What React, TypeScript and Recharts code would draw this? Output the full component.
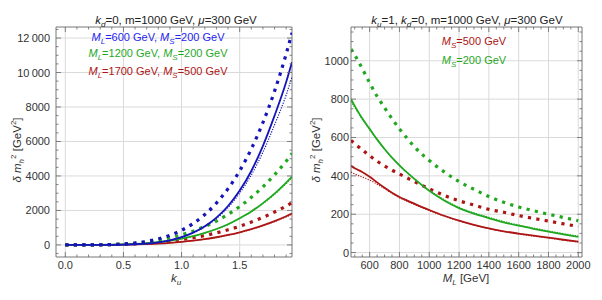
import React from 'react';
import { LineChart, Line, XAxis, YAxis, CartesianGrid, ReferenceArea } from 'recharts';

const FONT = '"Liberation Sans", Arial, sans-serif';
const TICK_COLOR = '#666';
const LABEL_COLOR = '#333';
const BLUE = '#1414b8';
const BLUE_TXT = '#2626f0';
const GREEN = '#1fa81f';
const RED = '#ad1515';

// ---------- Left panel data (k_u scan) ----------
const kValues = [0, 0.1, 0.2, 0.3, 0.4, 0.5, 0.6, 0.7, 0.8, 0.9, 1.0, 1.1, 1.2, 1.3, 1.4, 1.5, 1.6, 1.7, 1.8, 1.9, 1.95];
const blueSolid = [0, 0, 0.2, 1.4, 5.5, 16, 39, 81, 154, 271, 450, 712, 1080, 1585, 2260, 3150, 4290, 5750, 7500, 9450, 10600];
const blueThin = [0, 0, 0.2, 1.4, 5.4, 15.5, 38, 79, 150, 264, 438, 690, 1045, 1530, 2170, 3010, 4060, 5380, 6970, 8700, 9750];
const blueThick = [0, 0.1, 1.4, 7, 22, 53, 110, 204, 348, 558, 850, 1245, 1763, 2428, 3265, 4300, 5570, 7100, 8920, 11080, 12300];
const greenSolid = [0, 0.1, 1.1, 4.6, 13, 30, 57, 99, 160, 245, 360, 509, 696, 925, 1202, 1550, 1945, 2425, 2980, 3620, 3960];
const greenThin = [0, 0.1, 1.1, 4.6, 13, 30, 57, 99, 160, 245, 358, 505, 690, 915, 1188, 1530, 1920, 2390, 2930, 3560, 3900];
const greenThick = [0, 0.3, 2.9, 11, 28, 59, 108, 181, 281, 414, 585, 800, 1066, 1388, 1772, 2230, 2760, 3370, 4070, 4860, 5300];
const redSolid = [0, 0.1, 0.6, 2.6, 7.2, 15.7, 29, 51, 81, 123, 178, 248, 337, 446, 578, 735, 919, 1134, 1383, 1666, 1820];
const redThin = [0, 0.1, 0.6, 2.6, 7.1, 15.5, 28.6, 50, 80, 121, 175, 244, 331, 438, 567, 721, 900, 1110, 1353, 1630, 1785];
const redThick = [0, 0.25, 2.1, 7.6, 18, 36, 63, 103, 154, 223, 309, 416, 544, 697, 877, 1085, 1325, 1598, 1907, 2254, 2450];

const leftXMajor = [0, 0.5, 1, 1.5];
const leftXTicks = [0, 0.1, 0.2, 0.3, 0.4, 0.5, 0.6, 0.7, 0.8, 0.9, 1, 1.1, 1.2, 1.3, 1.4, 1.5, 1.6, 1.7, 1.8, 1.9];
const leftYMajor = [0, 2000, 4000, 6000, 8000, 10000, 12000];
const leftYTicks = [-500, 0, 500, 1000, 1500, 2000, 2500, 3000, 3500, 4000, 4500, 5000, 5500, 6000, 6500, 7000, 7500, 8000, 8500, 9000, 9500, 10000, 10500, 11000, 11500, 12000, 12500];

// ---------- Right panel data (M_L scan) ----------
const mValues = [475, 500, 550, 600, 650, 700, 750, 800, 850, 900, 1000, 1100, 1200, 1300, 1400, 1500, 1600, 1700, 1800, 1900, 2000];
const greenSolidR = [800, 765, 700, 645, 590, 540, 495, 455, 418, 384, 322, 272, 232, 203, 180, 158, 140, 124, 109, 95, 82];
const greenThinR = [788, 757, 696, 643, 589, 540, 495, 455, 419, 386, 325, 276, 236, 207, 184, 162, 144, 128, 113, 99, 86];
const greenThickR = [1060, 1030, 960, 885, 815, 755, 698, 645, 597, 552, 480, 421, 370, 330, 292, 262, 238, 218, 200, 183, 166];
const redSolidR = [452, 440, 420, 395, 366, 338, 312, 290, 272, 255, 222, 192, 167, 145, 126, 111, 99, 88, 78, 67, 57];
const redThinR = [420, 410, 394, 378, 357, 334, 309, 286, 268, 251, 219, 190, 165, 144, 125, 110, 97, 86, 76, 65, 55];
const redThickR = [585, 568, 536, 505, 477, 452, 430, 410, 390, 370, 333, 298, 270, 248, 225, 210, 193, 178, 164, 150, 136];

const rightXMajor = [600, 800, 1000, 1200, 1400, 1600, 1800, 2000];
const rightXTicks = [500, 550, 600, 650, 700, 750, 800, 850, 900, 950, 1000, 1050, 1100, 1150, 1200, 1250, 1300, 1350, 1400, 1450, 1500, 1550, 1600, 1650, 1700, 1750, 1800, 1850, 1900, 1950, 2000];
const rightYMajor = [0, 200, 400, 600, 800, 1000];
const rightYTicks = [0, 50, 100, 150, 200, 250, 300, 350, 400, 450, 500, 550, 600, 650, 700, 750, 800, 850, 900, 950, 1000, 1050, 1100, 1150];

const leftData = kValues.map((k, i) => ({
  k, bs: blueSolid[i], bt: blueThin[i], bk: blueThick[i],
  gs: greenSolid[i], gt: greenThin[i], gk: greenThick[i],
  rs: redSolid[i], rt: redThin[i], rk: redThick[i],
}));
const rightData = mValues.map((m, i) => ({
  m, gs: greenSolidR[i], gt: greenThinR[i], gk: greenThickR[i],
  rs: redSolidR[i], rt: redThinR[i], rk: redThickR[i],
}));

const fmtLeftY = (v: number) => (v >= 10000 ? `${Math.floor(v / 1000)}\u2009000` : `${v}`);
const fmtLeftX = (v: number) => v.toFixed(1);
const fmtInt = (v: number) => `${v}`;

function makeYTick(majors: number[], plotW: number, gap: number, fmt: (v: number) => string) {
  return (props: any) => {
    const { x, y, payload } = props;
    const v = payload.value;
    const major = majors.includes(v);
    const len = major ? 5 : 2.5;
    return (
      <g>
        <line x1={x} x2={x + len} y1={y} y2={y} stroke={TICK_COLOR} strokeWidth={0.8} />
        <line x1={x + plotW} x2={x + plotW - len} y1={y} y2={y} stroke={TICK_COLOR} strokeWidth={0.8} />
        {major && (
          <text x={x - gap} y={y} dy={4} textAnchor="end" fontSize={11} fill={LABEL_COLOR} fontFamily={FONT}>
            {fmt(v)}
          </text>
        )}
      </g>
    );
  };
}

function makeXTick(majors: number[], plotH: number, fmt: (v: number) => string) {
  return (props: any) => {
    const { x, y, payload } = props;
    const v = payload.value;
    const major = majors.includes(v);
    const len = major ? 5 : 2.5;
    return (
      <g>
        <line x1={x} x2={x} y1={y} y2={y - len} stroke={TICK_COLOR} strokeWidth={0.8} />
        <line x1={x} x2={x} y1={y - plotH} y2={y - plotH + len} stroke={TICK_COLOR} strokeWidth={0.8} />
        {major && (
          <text x={x} y={y + 12} textAnchor="middle" fontSize={11} fill={LABEL_COLOR} fontFamily={FONT}>
            {fmt(v)}
          </text>
        )}
      </g>
    );
  };
}

const SOLID_W = 1.8;
const THIN_W = 1.2;
const THIN_DASH = '1.2 1.4';
const THICK_W = 3.2;
const THICK_DASH = '3.2 5.3';

const LEFT_DOMAIN_X: [number, number] = [-0.08, 1.95];
const LEFT_DOMAIN_Y: [number, number] = [-700, 12640];
const RIGHT_DOMAIN_X: [number, number] = [475, 2025];
const RIGHT_DOMAIN_Y: [number, number] = [-23, 1176];

function LeftChart() {
  return (
    <LineChart width={300} height={300} data={leftData} margin={{ top: 27, right: 8, bottom: 13, left: 0 }}>
      <CartesianGrid stroke="#dadada" verticalValues={leftXMajor} horizontalValues={leftYMajor} />
      <XAxis dataKey="k" type="number" domain={LEFT_DOMAIN_X} allowDataOverflow ticks={leftXTicks} interval={0}
        tickLine={false} axisLine={false} tickSize={0} tickMargin={0} height={30}
        tick={makeXTick(leftXMajor, 230, fmtLeftX)} />
      <YAxis type="number" domain={LEFT_DOMAIN_Y} allowDataOverflow ticks={leftYTicks} interval={0}
        tickLine={false} axisLine={false} tickSize={0} tickMargin={0} width={56}
        tick={makeYTick(leftYMajor, 236, 6, fmtLeftY)} />
      <ReferenceArea x1={LEFT_DOMAIN_X[0]} x2={LEFT_DOMAIN_X[1]} y1={LEFT_DOMAIN_Y[0]} y2={LEFT_DOMAIN_Y[1]}
        fill="none" fillOpacity={0} stroke="#777" strokeWidth={1} />
      <Line type="monotone" dataKey="rk" stroke={RED} strokeWidth={THICK_W} strokeDasharray={THICK_DASH} dot={false} activeDot={false} isAnimationActive={false} />
      <Line type="monotone" dataKey="rt" stroke={RED} strokeWidth={THIN_W} strokeDasharray={THIN_DASH} dot={false} activeDot={false} isAnimationActive={false} />
      <Line type="monotone" dataKey="rs" stroke={RED} strokeWidth={SOLID_W} dot={false} activeDot={false} isAnimationActive={false} />
      <Line type="monotone" dataKey="gk" stroke={GREEN} strokeWidth={THICK_W} strokeDasharray={THICK_DASH} dot={false} activeDot={false} isAnimationActive={false} />
      <Line type="monotone" dataKey="gt" stroke={GREEN} strokeWidth={THIN_W} strokeDasharray={THIN_DASH} dot={false} activeDot={false} isAnimationActive={false} />
      <Line type="monotone" dataKey="gs" stroke={GREEN} strokeWidth={SOLID_W} dot={false} activeDot={false} isAnimationActive={false} />
      <Line type="monotone" dataKey="bk" stroke={BLUE} strokeWidth={THICK_W} strokeDasharray={THICK_DASH} dot={false} activeDot={false} isAnimationActive={false} />
      <Line type="monotone" dataKey="bt" stroke={BLUE} strokeWidth={THIN_W} strokeDasharray={THIN_DASH} dot={false} activeDot={false} isAnimationActive={false} />
      <Line type="monotone" dataKey="bs" stroke={BLUE} strokeWidth={SOLID_W} dot={false} activeDot={false} isAnimationActive={false} />
    </LineChart>
  );
}

function RightChart() {
  return (
    <LineChart width={302} height={300} data={rightData} margin={{ top: 27, right: 20, bottom: 13, left: 0 }}>
      <CartesianGrid stroke="#dadada" verticalValues={rightXMajor} horizontalValues={rightYMajor} />
      <XAxis dataKey="m" type="number" domain={RIGHT_DOMAIN_X} allowDataOverflow ticks={rightXTicks} interval={0}
        tickLine={false} axisLine={false} tickSize={0} tickMargin={0} height={30}
        tick={makeXTick(rightXMajor, 230, fmtInt)} />
      <YAxis type="number" domain={RIGHT_DOMAIN_Y} allowDataOverflow ticks={rightYTicks} interval={0}
        tickLine={false} axisLine={false} tickSize={0} tickMargin={0} width={51}
        tick={makeYTick(rightYMajor, 231, 2, fmtInt)} />
      <ReferenceArea x1={RIGHT_DOMAIN_X[0]} x2={RIGHT_DOMAIN_X[1]} y1={RIGHT_DOMAIN_Y[0]} y2={RIGHT_DOMAIN_Y[1]}
        fill="none" fillOpacity={0} stroke="#777" strokeWidth={1} />
      <Line type="monotone" dataKey="rk" stroke={RED} strokeWidth={THICK_W} strokeDasharray={THICK_DASH} dot={false} activeDot={false} isAnimationActive={false} />
      <Line type="monotone" dataKey="rt" stroke={RED} strokeWidth={THIN_W} strokeDasharray={THIN_DASH} dot={false} activeDot={false} isAnimationActive={false} />
      <Line type="monotone" dataKey="rs" stroke={RED} strokeWidth={SOLID_W} dot={false} activeDot={false} isAnimationActive={false} />
      <Line type="monotone" dataKey="gk" stroke={GREEN} strokeWidth={THICK_W} strokeDasharray={THICK_DASH} dot={false} activeDot={false} isAnimationActive={false} />
      <Line type="monotone" dataKey="gt" stroke={GREEN} strokeWidth={THIN_W} strokeDasharray={THIN_DASH} dot={false} activeDot={false} isAnimationActive={false} />
      <Line type="monotone" dataKey="gs" stroke={GREEN} strokeWidth={SOLID_W} dot={false} activeDot={false} isAnimationActive={false} />
    </LineChart>
  );
}

function Overlay() {
  const txt = { fontFamily: FONT } as const;
  return (
    <svg width={602} height={300} style={{ position: 'absolute', left: 0, top: 0, pointerEvents: 'none' }}>
      {/* titles */}
      <text x={176} y={24} textAnchor="middle" fontSize={11.5} fill="#222" {...txt}>
        <tspan fontStyle="italic">k</tspan><tspan fontSize={8} dy={3} fontStyle="italic">d</tspan>
        <tspan dy={-3}>=0, m=1000 GeV, </tspan><tspan fontStyle="italic">μ</tspan><tspan>=300 GeV</tspan>
      </text>
      <text x={467} y={24} textAnchor="middle" fontSize={11.5} fill="#222" {...txt}>
        <tspan fontStyle="italic">k</tspan><tspan fontSize={8} dy={3} fontStyle="italic">u</tspan>
        <tspan dy={-3}>=1, </tspan>
        <tspan fontStyle="italic">k</tspan><tspan fontSize={8} dy={3} fontStyle="italic">d</tspan>
        <tspan dy={-3}>=0, m=1000 GeV, </tspan><tspan fontStyle="italic">μ</tspan><tspan>=300 GeV</tspan>
      </text>
      {/* left legend */}
      <text x={158} y={41} textAnchor="middle" fontSize={11} fill={BLUE_TXT} {...txt}>
        <tspan fontStyle="italic">M</tspan><tspan fontSize={8} dy={3} fontStyle="italic">L</tspan>
        <tspan dy={-3}>=600 GeV, </tspan>
        <tspan fontStyle="italic">M</tspan><tspan fontSize={8} dy={3} fontStyle="italic">S</tspan>
        <tspan dy={-3}>=200 GeV</tspan>
      </text>
      <text x={158} y={57} textAnchor="middle" fontSize={11} fill={GREEN} {...txt}>
        <tspan fontStyle="italic">M</tspan><tspan fontSize={8} dy={3} fontStyle="italic">L</tspan>
        <tspan dy={-3}>=1200 GeV, </tspan>
        <tspan fontStyle="italic">M</tspan><tspan fontSize={8} dy={3} fontStyle="italic">S</tspan>
        <tspan dy={-3}>=200 GeV</tspan>
      </text>
      <text x={158} y={75} textAnchor="middle" fontSize={11} fill={RED} {...txt}>
        <tspan fontStyle="italic">M</tspan><tspan fontSize={8} dy={3} fontStyle="italic">L</tspan>
        <tspan dy={-3}>=1700 GeV, </tspan>
        <tspan fontStyle="italic">M</tspan><tspan fontSize={8} dy={3} fontStyle="italic">S</tspan>
        <tspan dy={-3}>=500 GeV</tspan>
      </text>
      {/* right legend */}
      <text x={474} y={45} textAnchor="middle" fontSize={11} fill={RED} {...txt}>
        <tspan fontStyle="italic">M</tspan><tspan fontSize={8} dy={3} fontStyle="italic">S</tspan>
        <tspan dy={-3}>=500 GeV</tspan>
      </text>
      <text x={474} y={64} textAnchor="middle" fontSize={11} fill={GREEN} {...txt}>
        <tspan fontStyle="italic">M</tspan><tspan fontSize={8} dy={3} fontStyle="italic">S</tspan>
        <tspan dy={-3}>=200 GeV</tspan>
      </text>
      {/* x labels */}
      <text x={176} y={282} textAnchor="middle" fontSize={11.5} fill="#333" {...txt}>
        <tspan fontStyle="italic">k</tspan><tspan fontSize={8} dy={3} fontStyle="italic">u</tspan>
      </text>
      <text x={466} y={282} textAnchor="middle" fontSize={11.5} fill="#333" {...txt}>
        <tspan fontStyle="italic">M</tspan><tspan fontSize={8} dy={3} fontStyle="italic">L</tspan>
        <tspan dy={-3}> [GeV]</tspan>
      </text>
      {/* y labels */}
      {[21, 320].map((x) => (
        <text key={x} transform={`translate(${x},150) rotate(-90)`} textAnchor="middle" fontSize={11.5} fill="#333" {...txt}>
          <tspan fontStyle="italic">δ m</tspan>
          <tspan fontSize={8} dy={3} fontStyle="italic">h</tspan>
          <tspan fontSize={8} dy={-8}>2</tspan>
          <tspan dy={5}> [GeV</tspan>
          <tspan fontSize={8} dy={-5}>2</tspan>
          <tspan dy={5}>]</tspan>
        </text>
      ))}
    </svg>
  );
}

export default function App() {
  return (
    <div style={{ position: 'absolute', left: 0, top: 0, width: 602, height: 300, background: '#fff', overflow: 'hidden' }}>
      <div style={{ position: 'absolute', left: 0, top: 0 }}>
        <LeftChart />
      </div>
      <div style={{ position: 'absolute', left: 300, top: 0 }}>
        <RightChart />
      </div>
      <Overlay />
    </div>
  );
}
